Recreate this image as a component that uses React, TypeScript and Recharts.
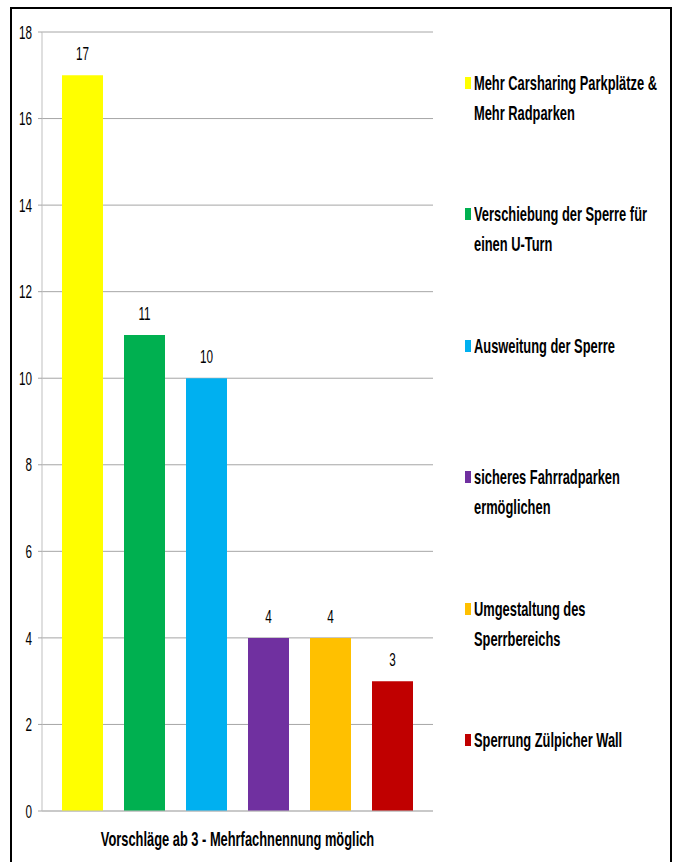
import React from 'react';
import { BarChart, Bar, XAxis, YAxis, CartesianGrid, Legend, LabelList } from 'recharts';

const categories = [
  'Mehr Carsharing Parkplätze &\nMehr Radparken',
  'Verschiebung der Sperre für\neinen U-Turn',
  'Ausweitung der Sperre',
  'sicheres Fahrradparken\nermöglichen',
  'Umgestaltung des\nSperrbereichs',
  'Sperrung Zülpicher Wall',
];
const values = [17, 11, 10, 4, 4, 3];
const colors = ['#FFFF00', '#00B050', '#00B0F0', '#7030A0', '#FFC000', '#C00000'];
const yTicks = [0, 2, 4, 6, 8, 10, 12, 14, 16, 18];
const groupLabel = 'Vorschläge ab 3 - Mehrfachnennung möglich';

const seriesKeys = categories.map((_, i) => `s${i}`);
const row: Record<string, string | number> = { group: groupLabel };
values.forEach((v, i) => {
  row[seriesKeys[i]] = v;
});
const data = [row];

const FONT = '"Liberation Sans", Arial, sans-serif';
const SX = 0.82;
const SY = 1.33;

const YTick = (props: any) => {
  const { x, y, payload } = props;
  return (
    <text
      transform={`translate(${x},${y}) scale(${SX},${SY})`}
      textAnchor="end"
      dominantBaseline="central"
      fontFamily={FONT}
      fontSize={14.3}
      fill="#000"
    >
      {payload.value}
    </text>
  );
};

const ValueLabel = (props: any) => {
  const { x, y, width, value } = props;
  const cx = Number(x) + Number(width) / 2;
  const cy = Number(y) - 21.5;
  return (
    <text
      transform={`translate(${cx},${cy}) scale(${SX},${SY})`}
      textAnchor="middle"
      dominantBaseline="central"
      fontFamily={FONT}
      fontSize={14.3}
      fill="#000"
    >
      {value}
    </text>
  );
};

const XLabel = (props: any) => {
  const vb = props.viewBox || {};
  const cx = Number(vb.x) + Number(vb.width) / 2;
  const cy = Number(vb.y) + 27.5;
  return (
    <text
      transform={`translate(${cx},${cy}) scale(${SX},${SY})`}
      textAnchor="middle"
      dominantBaseline="central"
      fontFamily={FONT}
      fontWeight="bold"
      fontSize={15.7}
      fill="#000"
    >
      {groupLabel}
    </text>
  );
};

const LegendContent = (props: any) => {
  const payload = props.payload || [];
  return (
    <div>
      {payload.map((entry: any, i: number) => (
        <div key={i} style={{ position: 'relative', height: 131.4 }}>
          <div
            style={{
              position: 'absolute',
              left: 2,
              top: 9,
              width: 6,
              height: 12,
              background: entry.color,
            }}
          />
          <div style={{ position: 'absolute', left: 11, top: 0 }}>
            {String(entry.value)
              .split('\n')
              .map((line: string, j: number) => (
                <div key={j} style={{ height: 30, lineHeight: '30px', whiteSpace: 'nowrap' }}>
                  <span
                    style={{
                      display: 'inline-block',
                      transform: `scale(${SX},${SY})`,
                      transformOrigin: '0 50%',
                      fontFamily: FONT,
                      fontWeight: 'bold',
                      fontSize: 15.7,
                      color: '#000',
                    }}
                  >
                    {line}
                  </span>
                </div>
              ))}
          </div>
        </div>
      ))}
    </div>
  );
};

export default function App() {
  return (
    <div
      style={{
        position: 'absolute',
        left: 0,
        top: 0,
        width: 682,
        height: 862,
        overflow: 'hidden',
        background: '#fff',
      }}
    >
      <BarChart
        width={682}
        height={862}
        data={data}
        barGap={21}
        margin={{ top: 32, right: 44, bottom: 0, left: 0 }}
      >
        <CartesianGrid xAxisId="cat" vertical={false} stroke="#A6A6A6" />
        <XAxis
          xAxisId="frame"
          type="number"
          domain={[0, 1]}
          ticks={[0, 1]}
          tick={false}
          tickSize={9}
          axisLine={{ stroke: '#BFBFBF' }}
          tickLine={{ stroke: '#C8C8C8' }}
          height={51}
          label={<XLabel />}
        />
        <XAxis xAxisId="cat" dataKey="group" hide height={0} />
        <YAxis
          domain={[0, 18]}
          ticks={yTicks}
          interval={0}
          width={42}
          tickSize={4}
          tickMargin={6}
          axisLine={{ stroke: '#BFBFBF' }}
          tickLine={{ stroke: '#A6A6A6' }}
          tick={<YTick />}
        />
        <Legend
          layout="vertical"
          align="right"
          verticalAlign="top"
          width={205}
          itemSorter={(item: any) => categories.indexOf(String(item.value))}
          wrapperStyle={{ left: 463, top: 68 }}
          content={<LegendContent />}
        />
        {categories.map((c, i) => (
          <Bar
            key={seriesKeys[i]}
            xAxisId="cat"
            dataKey={seriesKeys[i]}
            name={c}
            fill={colors[i]}
            barSize={41}
            isAnimationActive={false}
          >
            <LabelList dataKey={seriesKeys[i]} content={<ValueLabel />} />
          </Bar>
        ))}
      </BarChart>
      <div
        style={{
          position: 'absolute',
          left: 10,
          top: 7,
          width: 662,
          height: 900,
          border: '2px solid #000',
          boxSizing: 'border-box',
          pointerEvents: 'none',
        }}
      />
    </div>
  );
}
